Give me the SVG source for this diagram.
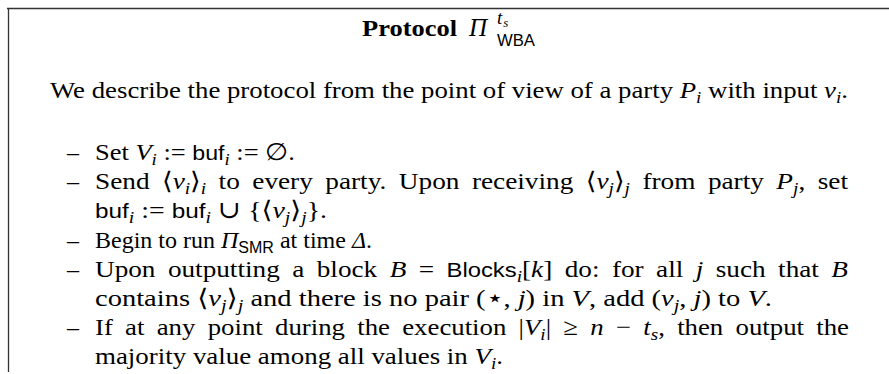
<svg xmlns="http://www.w3.org/2000/svg" width="889" height="374" viewBox="0 0 889 374">
<style>
.t{font-family:"Liberation Serif","DejaVu Serif",serif;font-size:24px;fill:#000}
.i{font-style:italic}
.sf{font-family:"Liberation Sans","DejaVu Sans",sans-serif;font-size:21px}
.s{font-size:17px}
.ss{font-family:"Liberation Sans","DejaVu Sans",sans-serif;font-size:16px}
.b{font-weight:bold}
.w{word-spacing:5px}
</style>
<rect width="889" height="374" fill="#fff"/>
<g id="frame" stroke="#333" fill="none" stroke-width="1.3">
<line x1="7" y1="8.5" x2="889" y2="8.5"/>
<line x1="8.5" y1="8" x2="8.5" y2="372"/>
</g>
<g id="title">
<text class="t b" x="362" y="36" textLength="95" lengthAdjust="spacingAndGlyphs">Protocol</text>
<text class="t i" x="469" y="36" style="font-size:25px">Π</text>
<text class="t i" x="497" y="24" style="font-size:19px">t<tspan dx="1" dy="3" style="font-size:13px">s</tspan></text>
<text class="t ss" x="497" y="45.5" textLength="38" lengthAdjust="spacingAndGlyphs">WBA</text>
</g>
<g id="intro">
<text class="t" x="50" y="98" textLength="798" lengthAdjust="spacingAndGlyphs">We describe the protocol from the point of view of a party <tspan class="i">P</tspan><tspan class="s i" dy="5">i</tspan><tspan dy="-5"> with input </tspan><tspan class="i">v</tspan><tspan class="s i" dy="5">i</tspan><tspan dy="-5">.</tspan></text>
</g>
<g id="list">
<text class="t" x="67" y="160">–</text>
<text class="t" x="95" y="160" textLength="200" lengthAdjust="spacingAndGlyphs">Set <tspan class="i">V</tspan><tspan class="s i" dy="5">i</tspan><tspan dy="-5"> := </tspan><tspan class="sf">buf</tspan><tspan class="s i" dy="5">i</tspan><tspan dy="-5"> := ∅.</tspan></text>

<text class="t" x="67" y="189">–</text>
<text class="t w" x="95" y="189" textLength="753" lengthAdjust="spacingAndGlyphs">Send ⟨<tspan class="i">v</tspan><tspan class="s i" dy="5">i</tspan><tspan dy="-5">⟩</tspan><tspan class="s i" dy="5">i</tspan><tspan dy="-5"> to every party. Upon receiving ⟨</tspan><tspan class="i">v</tspan><tspan class="s i" dy="5">j</tspan><tspan dy="-5">⟩</tspan><tspan class="s i" dy="5">j</tspan><tspan dy="-5"> from party </tspan><tspan class="i">P</tspan><tspan class="s i" dy="5">j</tspan><tspan dy="-5">, set</tspan></text>
<text class="t" x="95" y="218" textLength="232" lengthAdjust="spacingAndGlyphs"><tspan class="sf">buf</tspan><tspan class="s i" dy="5">i</tspan><tspan dy="-5"> := </tspan><tspan class="sf">buf</tspan><tspan class="s i" dy="5">i</tspan><tspan dy="-5"> ∪ {⟨</tspan><tspan class="i">v</tspan><tspan class="s i" dy="5">j</tspan><tspan dy="-5">⟩</tspan><tspan class="s i" dy="5">j</tspan><tspan dy="-5">}.</tspan></text>

<text class="t" x="67" y="248">–</text>
<text class="t" x="95" y="248">Begin to run <tspan class="i">Π</tspan><tspan class="ss" dy="5">SMR</tspan><tspan dy="-5"> at time </tspan><tspan class="i">Δ</tspan>.</text>

<text class="t" x="67" y="277">–</text>
<text class="t w" x="95" y="277" textLength="753" lengthAdjust="spacingAndGlyphs">Upon outputting a block <tspan class="i">B</tspan> = <tspan class="sf">Blocks</tspan><tspan class="s i" dy="5">i</tspan><tspan dy="-5">[</tspan><tspan class="i">k</tspan>] do: for all <tspan class="i">j</tspan> such that <tspan class="i">B</tspan></text>
<text class="t" x="95" y="306" textLength="677" lengthAdjust="spacingAndGlyphs">contains ⟨<tspan class="i">v</tspan><tspan class="s i" dy="5">j</tspan><tspan dy="-5">⟩</tspan><tspan class="s i" dy="5">j</tspan><tspan dy="-5"> and there is no pair (⋆, </tspan><tspan class="i">j</tspan>) in <tspan class="i">V</tspan>, add (<tspan class="i">v</tspan><tspan class="s i" dy="5">j</tspan><tspan dy="-5">, </tspan><tspan class="i">j</tspan>) to <tspan class="i">V</tspan>.</text>

<text class="t" x="67" y="335">–</text>
<text class="t w" x="95" y="335" textLength="754" lengthAdjust="spacingAndGlyphs">If at any point during the execution |<tspan class="i">V</tspan><tspan class="s i" dy="5">i</tspan><tspan dy="-5">| ≥ </tspan><tspan class="i">n</tspan> − <tspan class="i">t</tspan><tspan class="s i" dy="5">s</tspan><tspan dy="-5">, then output the</tspan></text>
<text class="t" x="95" y="364" textLength="408" lengthAdjust="spacingAndGlyphs">majority value among all values in <tspan class="i">V</tspan><tspan class="s i" dy="5">i</tspan><tspan dy="-5">.</tspan></text>
</g>
</svg>
